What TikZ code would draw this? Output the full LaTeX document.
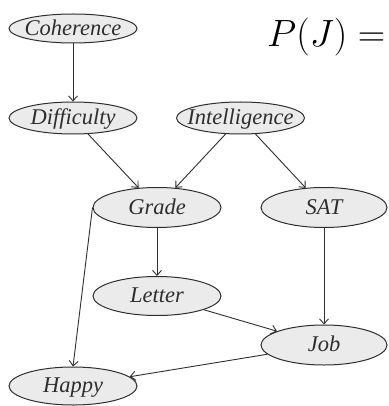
\RequirePackage{fix-cm}
\documentclass[tikz,border=0pt]{standalone}
\usepackage[no-math]{fontspec}
\setmainfont{Liberation Serif}
\usetikzlibrary{shapes.geometric,arrows.meta}
\definecolor{linec}{HTML}{2E2E2E}
\definecolor{fillc}{HTML}{EBEBEB}
\newcommand\ntext[1]{\makebox[0pt]{\raisebox{-0.3em}[0pt][0pt]{#1}}}
\tikzset{
  nd/.style={ellipse, draw=linec, fill=fillc, line width=1pt, inner sep=0pt,
    minimum width=128pt, minimum height=#1, text=linec,
    font=\itshape\fontsize{22.5}{22.5}\selectfont},
  arr/.style={draw=linec, line width=0.9pt, -{Straight Barb[length=5pt,width=9pt]}}
}
\begin{document}
\begin{tikzpicture}[x=1pt,y=-1pt]
\useasboundingbox (0,0) rectangle (388,406);
\node[nd=29pt] (coh) at (73,28.5) {\ntext{Coherence}};
\node[nd=32pt] (dif) at (73,118) {\ntext{Difficulty}};
\node[nd=32pt] (int) at (240.5,118) {\ntext{Intelligence}};
\node[nd=40pt] (gra) at (157,207.5) {\ntext{Grade}};
\node[nd=40pt, minimum width=126pt] (sat) at (324,207.5) {\ntext{SAT}};
\node[nd=39pt] (let) at (157,296) {\ntext{Letter}};
\node[nd=40pt, minimum width=126pt] (job) at (324,345) {\ntext{Job}};
\node[nd=38pt] (hap) at (73,386) {\ntext{Happy}};
\node[anchor=base west, inner sep=0pt] (pj) at (267,47) {\fontsize{38}{38}\selectfont $P(J) =$};
\draw[arr] (coh) -- (dif);
\draw[arr] (dif) -- (gra);
\draw[arr] (int) -- (gra);
\draw[arr] (int) -- (sat);
\draw[arr] (gra) -- (let);
\draw[arr] (sat) -- (job);
\draw[arr] (gra.west) -- (hap.north);
\draw[arr] (let) -- (job);
\draw[arr] (job) -- (hap);
\end{tikzpicture}
\end{document}
